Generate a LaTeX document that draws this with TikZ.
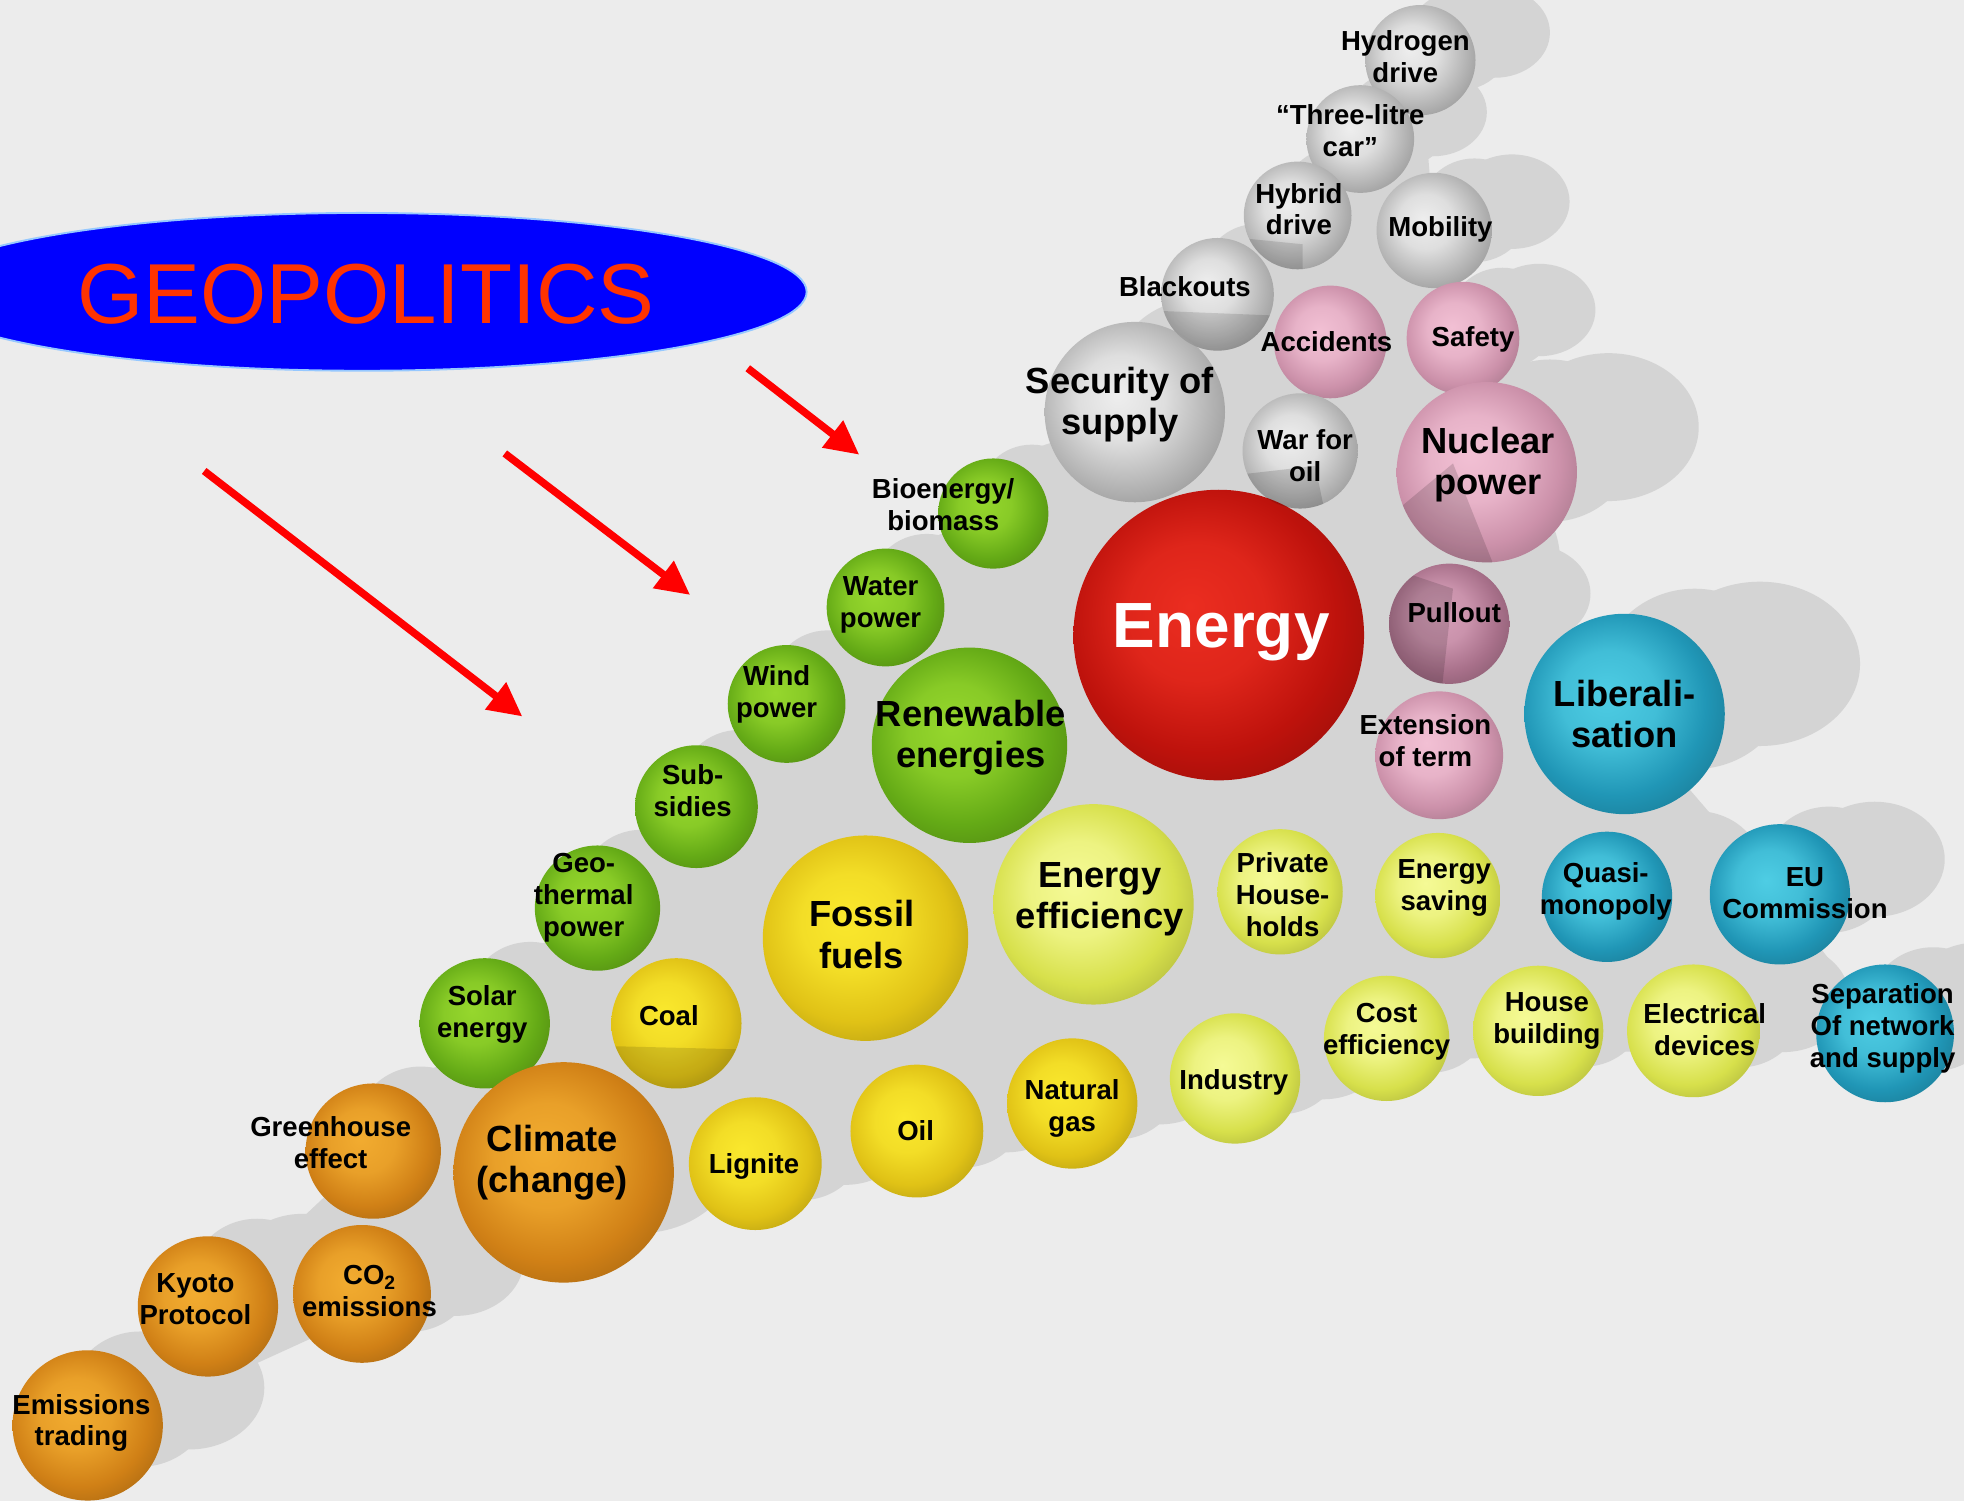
\documentclass[tikz,border=0pt]{standalone}
\usepackage{fontspec}
\setmainfont{Liberation Sans}
\usetikzlibrary{arrows.meta}
\definecolor{bg}{RGB}{236,236,236}
\definecolor{shd}{RGB}{212,212,212}
\definecolor{grI}{RGB}{238,238,238}\definecolor{grO}{RGB}{182,182,182}
\definecolor{pkI}{RGB}{242,192,212}\definecolor{pkO}{RGB}{204,145,170}
\definecolor{mvI}{RGB}{215,160,185}\definecolor{mvO}{RGB}{168,112,138}
\definecolor{rdI}{RGB}{235,45,32}\definecolor{rdO}{RGB}{190,18,12}
\definecolor{cyI}{RGB}{78,205,228}\definecolor{cyO}{RGB}{32,150,182}
\definecolor{gnI}{RGB}{150,215,45}\definecolor{gnO}{RGB}{100,170,22}
\definecolor{ylI}{RGB}{250,232,45}\definecolor{ylO}{RGB}{224,194,22}
\definecolor{lyI}{RGB}{245,250,150}\definecolor{lyO}{RGB}{215,224,75}
\definecolor{orI}{RGB}{242,172,48}\definecolor{orO}{RGB}{208,128,22}
\definecolor{geoblue}{RGB}{0,0,255}
\definecolor{georim}{RGB}{150,200,255}
\definecolor{geored}{RGB}{255,51,0}
\definecolor{arrred}{RGB}{255,0,0}
\colorlet{sphin}{grI}\colorlet{sphout}{grO}
\pgfdeclareradialshading[sphin,sphout]{sphere}{\pgfpoint{-5bp}{5bp}}{color(0bp)=(sphin); color(12bp)=(sphin!72!sphout); color(23bp)=(sphout); color(28bp)=(sphout!90!black); color(50bp)=(sphout!90!black)}
\begin{document}
\begin{tikzpicture}[x=1pt,y=-1pt,
  lab/.style={font=\bfseries\fontsize{22}{25.5}\selectfont, align=center, text=black, inner sep=0pt},
  big/.style={font=\bfseries\fontsize{29}{33}\selectfont, align=center, text=black, inner sep=0pt},
  energylab/.style={font=\bfseries\fontsize{51}{55}\selectfont, text=white, inner sep=0pt},
  geoarrow/.style={draw=arrred, line width=6pt, -{Triangle[length=27pt,width=26pt]}},
  ballnode/.style={circle, inner sep=0pt, draw=none, shading=sphere}]
\useasboundingbox (0,0) rectangle (1568,1198);
\fill[bg] (0,0) rectangle (1568,1198);
% interior shadow floor
\fill[shd] (70,1137) -- (166,1043) -- (298,919) -- (387,817) -- (477,725) -- (556,644) -- (628,562) -- (707,485) -- (793,410) -- (906,329) -- (972,235) -- (1036,172) -- (1086,111) -- (1134,48) -- (1145,184) -- (1168,270) -- (1187,377) -- (1297,570) -- (1421,714) -- (1505,825) -- (1352,835) -- (1228,840) -- (1107,850) -- (986,880) -- (856,900) -- (732,922) -- (603,950) -- (450,990) -- (289,1050) -- (70,1150) -- cycle;
\def\balllist{hyd/1134/48/44/gr, three/1086/111/43/gr, hybrid/1036/172/43/gr, mob/1145/184/46/gr, black/972/235/45/gr, safety/1168/270/45/pk, acc/1062/273/45/pk, sec/906/329/72/gr, war/1038/360/46/gr, nuc/1187/377/72/pk, bio/793/410/44/gn, water/707/485/47/gn, pull/1157/498/48/mv, energy/973/507/116/rd, wind/628/562/47/gn, lib/1297/570/80/cy, ren/774/595/78/gn, ext/1149/603/51/pk, sub/556/644/49/gn, priv/1022/712/50/ly, eu/1421/714/56/cy, save/1148/715/50/ly, quasi/1283/716/52/cy, eff/873/722/80/ly, geo/477/725/50/gn, fossil/691/749/82/yl, coal/540/817/52/yl, solar/387/817/52/gn, house/1228/823/52/ly, elec/1352/823/53/ly, sep/1505/825/55/cy, cost/1107/829/50/ly, ind/986/861/52/ly, gas/856/881/52/yl, oil/732/903/53/yl, green/298/919/54/or, lig/603/929/53/yl, clim/450/936/88/or, co2/289/1033/55/or, kyoto/166/1043/56/or, emis/70/1138/60/or}
% cast shadows
\foreach \n/\x/\y/\r/\cc in \balllist {
  \fill[shd] ({\x+0.7*\r},{\y-0.35*\r}) ellipse [x radius={0.95*\r*1pt}, y radius={0.9*\r*1pt}];
  \fill[shd] ({\x+1.35*\r},{\y-0.5*\r}) ellipse [x radius={1.0*\r*1pt}, y radius={0.82*\r*1pt}];
}
% spheres
\foreach \n/\x/\y/\r/\cc in \balllist {
  \colorlet{sphin}{\cc I}\colorlet{sphout}{\cc O}
  \node[ballnode, minimum size={2*\r*1pt}] (\n) at (\x,\y) {};
}
% shaded crescents on some spheres
\begin{scope}
  \clip (nuc) circle (72pt);
  \fill[black, opacity=0.14] (1100,420) -- (1160,370) -- (1200,470) -- (1100,470) -- cycle;
\end{scope}
\begin{scope}
  \clip (pull) circle (48pt);
  \fill[black, opacity=0.14] (1100,450) -- (1160,470) -- (1150,560) -- (1100,560) -- cycle;
\end{scope}
\begin{scope}
  \clip (war) circle (46pt);
  \fill[black, opacity=0.14] (980,380) -- (1050,372) -- (1060,420) -- (980,420) -- cycle;
\end{scope}
\begin{scope}
  \clip (black) circle (45pt);
  \fill[black, opacity=0.12] (920,248) -- (1020,252) -- (1020,290) -- (920,290) -- cycle;
\end{scope}
\begin{scope}
  \clip (coal) circle (52pt);
  \fill[black, opacity=0.12] (480,835) -- (600,838) -- (600,880) -- (480,880) -- cycle;
\end{scope}
\begin{scope}
  \clip (hybrid) circle (43pt);
  \fill[black, opacity=0.12] (990,190) -- (1040,195) -- (1040,220) -- (990,220) -- cycle;
\end{scope}
% GEOPOLITICS
\coordinate (geocenter) at (289,233);
\fill[geoblue, draw=georim, line width=1.5pt] (geocenter) ellipse [x radius=355, y radius=63];
\node[font=\fontsize{68}{70}\selectfont, text=geored, inner sep=0pt] (geotext) at (292,235) {GEOPOLITICS};
% arrows
\coordinate (a1s) at (597,294); \coordinate (a1e) at (686,363);
\coordinate (a2s) at (403,362); \coordinate (a2e) at (551,475);
\coordinate (a3s) at (163,376); \coordinate (a3e) at (417,572);
\draw[geoarrow] (a1s) -- (a1e);
\draw[geoarrow] (a2s) -- (a2e);
\draw[geoarrow] (a3s) -- (a3e);
% labels
\node[lab] (thyd) at (1122,45) {Hydrogen\\drive};
\node[lab] (tthree) at (1078,104) {“Three-litre\\car”};
\node[lab] (thybrid) at (1037,167) {Hybrid\\drive};
\node[lab] (tmob) at (1150,183) {Mobility};
\node[lab] (tblack) at (946,229) {Blackouts};
\node[lab] (tacc) at (1059,273) {Accidents};
\node[lab] (tsafety) at (1176,271) {Safety};
\node[big] (tsec) at (894,323) {Security of\\supply};
\node[lab] (twar) at (1042,364) {War for\\oil};
\node[big] (tnuc) at (1188,371) {Nuclear\\power};
\node[lab] (tbio) at (753,403) {Bioenergy/\\biomass};
\node[energylab] (tenergy) at (975,505) {Energy};
\node[lab] (tpull) at (1161,489) {Pullout};
\node[lab] (twater) at (703,483) {Water\\power};
\node[lab] (twind) at (620,554) {Wind\\power};
\node[big] (tren) at (775,589) {Renewable\\energies};
\node[lab] (textn) at (1138,591) {Extension\\of term};
\node[big] (tlib) at (1297,570) {Liberali-\\sation};
\node[lab] (tsub) at (553,631) {Sub-\\sidies};
\node[lab] (tgeo) at (466,717) {Geo-\\thermal\\power};
\node[big] (tfossil) at (688,746) {Fossil\\fuels};
\node[big] (teff) at (878,718) {Energy\\efficiency};
\node[lab] (tpriv) at (1024,714) {Private\\House-\\holds};
\node[lab] (tsave) at (1153,709) {Energy\\saving};
\node[lab] (tquasi) at (1282,712) {Quasi-\\monopoly};
\node[lab] (teu) at (1441,713) {EU\\Commission};
\node[lab] (tsolar) at (385,810) {Solar\\energy};
\node[lab] (tcoal) at (534,811) {Coal};
\node[lab] (tsep) at (1503,821) {Separation\\Of network\\and supply};
\node[lab] (tcost) at (1107,824) {Cost\\efficiency};
\node[lab] (thouse) at (1235,815) {House\\building};
\node[lab] (telec) at (1361,822) {Electrical\\devices};
\node[lab] (tind) at (985,864) {Industry};
\node[lab] (tgas) at (856,885) {Natural\\gas};
\node[lab] (toil) at (731,903) {Oil};
\node[lab] (tlig) at (602,931) {Lignite};
\node[lab] (tgreen) at (264,912) {Greenhouse\\effect};
\node[big] (tclim) at (441,928) {Climate\\(change)};
\node[lab] (tkyoto) at (156,1037) {Kyoto\\Protocol};
\node[lab] (tco2) at (295,1031) {CO\textsubscript{2}\\emissions};
\node[lab] (temis) at (65,1136) {Emissions\\trading};
\end{tikzpicture}
\end{document}
